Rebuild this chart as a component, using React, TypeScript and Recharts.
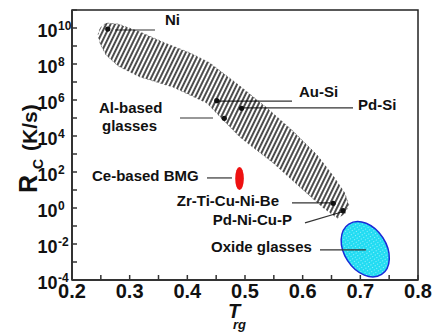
import React from "react";
import { ComposedChart, Scatter, XAxis, YAxis, ReferenceLine, ReferenceArea } from "recharts";

const FONT = "'Liberation Sans', Arial, Helvetica, sans-serif";

// alloys marked with a dot: reduced glass temperature and log10 of critical cooling rate
const alloyNames = ["Ni", "Au-Si", "Pd-Si", "Al-based", "Zr-Ti-Cu-Ni-Be", "Pd-Ni-Cu-P"];
const alloyTrg = [0.262, 0.451, 0.494, 0.464, 0.653, 0.67];
const alloyLogRc = [9.94, 5.96, 5.54, 4.98, 0.26, -0.15];

// outline of the hatched band, traced around its edge (Trg, log10 Rc)
const bandTrg = [0.249, 0.259, 0.28, 0.318, 0.361, 0.405, 0.439, 0.491, 0.538, 0.583, 0.625, 0.653, 0.673, 0.68,
  0.673, 0.66, 0.634, 0.595, 0.549, 0.491, 0.462, 0.434, 0.375, 0.318, 0.28, 0.259, 0.249, 0.245];
const bandLogRc = [10.0, 10.28, 10.22, 9.78, 9.17, 8.61, 8.06, 6.78, 5.56, 4.28, 2.94, 1.78, 0.83, 0.17,
  -0.33, -0.56, 0.06, 1.17, 2.5, 3.94, 4.89, 5.83, 6.72, 7.28, 7.89, 8.5, 9.11, 9.61];

// extents of the two ellipses
const ceTrg = [0.483, 0.498];
const ceLogRc = [1.0, 2.28];
const oxideTrg = [0.672, 0.745];
const oxideLogRc = [-3.96, -0.62];

// annotation text
const labelTexts = ["Ni", "Au-Si", "Pd-Si", "Al-based", "glasses", "Ce-based BMG", "Zr-Ti-Cu-Ni-Be", "Pd-Ni-Cu-P", "Oxide glasses"];
const labelTrg = [0.3613, 0.5936, 0.696, 0.2468, 0.252, 0.2347, 0.559, 0.5815, 0.616];
const labelLogRc = [10.17, 6.17, 5.44, 5.28, 4.28, 1.5, 0.11, -0.94, -2.44];
const labelAnchors = ["start", "start", "start", "start", "start", "start", "end", "end", "end"];

// leader lines: [from, to]
const leaderTrg = [[0.2746, 0.3439], [0.4497, 0.5815], [0.493, 0.6873], [0.3873, 0.4445], [0.4341, 0.4774],
  [0.5815, 0.6474], [0.604, 0.6676], [0.63, 0.7098]];
const leaderLogRc = [[9.89, 9.89], [5.94, 5.94], [5.56, 5.56], [5.0, 5.0], [1.67, 1.67], [0.28, 0.28],
  [-0.83, -0.22], [-2.33, -2.33]];

const xTicks = [0.2, 0.25, 0.3, 0.35, 0.4, 0.45, 0.5, 0.55, 0.6, 0.65, 0.7, 0.75, 0.8];
const yTickExps = [-4, -3, -2, -1, 0, 1, 2, 3, 4, 5, 6, 7, 8, 9, 10, 11];

const rc = (e: number) => Math.pow(10, e);

const alloyData = alloyTrg.map((x, i) => ({ x, y: rc(alloyLogRc[i]), name: alloyNames[i] }));
const bandData = bandTrg.map((x, i) => ({ x, y: rc(bandLogRc[i]) }));
const labelData = labelTrg.map((x, i) => ({ x, y: rc(labelLogRc[i]), text: labelTexts[i], anchor: labelAnchors[i] }));
const yTicks = yTickExps.map(rc);

const BandShape = (props: any) => {
  const pts = props.points || [];
  if (!pts.length) return null;
  const d = "M" + pts.map((p: any) => `${p.x},${p.y}`).join("L") + "Z";
  return (
    <g>
      <defs>
        <pattern id="hatch" patternUnits="userSpaceOnUse" width="4" height="12" patternTransform="rotate(26)">
          <line x1="2" y1="0" x2="2" y2="12" stroke="#000" strokeWidth="1.4" />
        </pattern>
      </defs>
      <path d={d} fill="url(#hatch)" stroke="#222" strokeWidth={0.8} strokeDasharray="2 2.5" strokeOpacity={0.6} />
    </g>
  );
};

const CeShape = (p: any) => (
  <ellipse cx={p.x + p.width / 2} cy={p.y + p.height / 2} rx={Math.abs(p.width) / 2} ry={Math.abs(p.height) / 2} fill="#ee1111" />
);

const OxideShape = (p: any) => {
  const cx = p.x + p.width / 2;
  const cy = p.y + p.height / 2;
  return (
    <g>
      <defs>
        <pattern id="dots" patternUnits="userSpaceOnUse" width="3" height="3">
          <rect width="3" height="3" fill="#22dcf2" />
          <circle cx="1.5" cy="1.5" r="0.6" fill="#a8f4ff" />
        </pattern>
      </defs>
      <ellipse cx={cx} cy={cy} rx={Math.abs(p.width) / 2} ry={Math.abs(p.height) / 2} fill="url(#dots)"
        stroke="#1a2ad8" strokeWidth={1.5} transform={`rotate(-33 ${cx} ${cy})`} />
    </g>
  );
};

const FrameShape = (p: any) => (
  <rect x={p.x} y={p.y} width={p.width} height={p.height} fill="none" stroke="#222" strokeWidth={1.5} />
);

const LabelShape = (p: any) => (
  <text x={p.cx} y={p.cy} textAnchor={p.payload.anchor} fontSize={15} fontWeight="bold" fill="#111" fontFamily={FONT}>
    {p.payload.text}
  </text>
);

const DotShape = (p: any) => <circle cx={p.cx} cy={p.cy} r={2.6} fill="#111" />;

const XTick = (p: any) => {
  const v = p.payload.value;
  const major = Math.abs(v * 10 - Math.round(v * 10)) < 1e-6;
  return (
    <g>
      <line x1={p.x} x2={p.x} y1={p.y} y2={p.y - 5} stroke="#333" strokeWidth={1.5} />
      {major && (
        <text x={p.x} y={p.y + 18} textAnchor="middle" fontSize={20} fontWeight="bold" fill="#111" fontFamily={FONT}>
          {v.toFixed(1)}
        </text>
      )}
    </g>
  );
};

const YTick = (p: any) => {
  const axisX = p.x + 14;
  const e = Math.round(Math.log10(p.payload.value));
  const show = e % 2 === 0 && e <= 10;
  return (
    <g>
      <line x1={axisX} x2={axisX + 5} y1={p.y} y2={p.y} stroke="#333" strokeWidth={1.5} />
      {show && (
        <g fontWeight="bold" fill="#111" fontFamily={FONT}>
          <text x={axisX - 14.5} y={p.y + 9} textAnchor="end" fontSize={18}>10</text>
          <text x={axisX - 14} y={p.y + 2} textAnchor="start" fontSize={12}>{String(e)}</text>
        </g>
      )}
    </g>
  );
};

const XTitle = (p: any) => {
  const vb = p.viewBox;
  const cx = vb.x + vb.width / 2;
  return (
    <g fontWeight="bold" fontStyle="italic" fill="#111" fontFamily={FONT}>
      <text x={cx - 17} y={vb.y + 38} fontSize={20}>T</text>
      <text x={cx - 12} y={vb.y + 49} fontSize={13}>rg</text>
    </g>
  );
};

const YTitle = (p: any) => {
  const vb = p.viewBox;
  const x = vb.x + 37;
  const rot = (y: number) => `rotate(-90 ${x} ${y})`;
  return (
    <g fontWeight="bold" fill="#111" fontFamily={FONT}>
      <text x={x} y={193} transform={rot(193)} fontSize={25}>R</text>
      <text x={x} y={169} dy={6} transform={`rotate(-90 ${x} 169)`} fontSize={14}>C</text>
      <text x={x} y={151} transform={rot(151)} fontSize={21}>(K/s)</text>
    </g>
  );
};

export default function App() {
  return (
    <div style={{ position: "absolute", left: 0, top: 0, background: "#fff" }}>
      <ComposedChart width={434} height={335} margin={{ top: 10, right: 16, bottom: 0, left: 0 }} style={{ fontFamily: FONT }}>
        <XAxis dataKey="x" type="number" domain={[0.2, 0.8]} ticks={xTicks} interval={0} tickSize={0} tickMargin={0}
          tick={XTick} axisLine={{ stroke: "#333", strokeWidth: 2 }} height={55} allowDataOverflow label={{ content: XTitle }} />
        <YAxis dataKey="y" type="number" scale="log" domain={[1e-4, 1e11]} ticks={yTicks} interval={0} tickSize={0}
          tickMargin={14} tick={YTick} axisLine={{ stroke: "#333", strokeWidth: 2 }} width={72} allowDataOverflow
          label={{ content: YTitle }} />
        <ReferenceArea x1={0.2} x2={0.8} y1={1e-4} y2={1e11} shape={FrameShape} ifOverflow="visible" />
        <Scatter data={bandData} line={BandShape} lineType="joint" shape={() => <g />} isAnimationActive={false} />
        <ReferenceArea x1={ceTrg[0]} x2={ceTrg[1]} y1={rc(ceLogRc[0])} y2={rc(ceLogRc[1])} shape={CeShape} ifOverflow="visible" />
        <ReferenceArea x1={oxideTrg[0]} x2={oxideTrg[1]} y1={rc(oxideLogRc[0])} y2={rc(oxideLogRc[1])} shape={OxideShape}
          ifOverflow="visible" />
        {leaderTrg.map((xs, i) => (
          <ReferenceLine key={i} segment={[{ x: xs[0], y: rc(leaderLogRc[i][0]) }, { x: xs[1], y: rc(leaderLogRc[i][1]) }]}
            stroke="#333" strokeWidth={1.2} ifOverflow="visible" />
        ))}
        <Scatter data={alloyData} shape={DotShape} isAnimationActive={false} />
        <Scatter data={labelData} shape={LabelShape} isAnimationActive={false} />
      </ComposedChart>
    </div>
  );
}
